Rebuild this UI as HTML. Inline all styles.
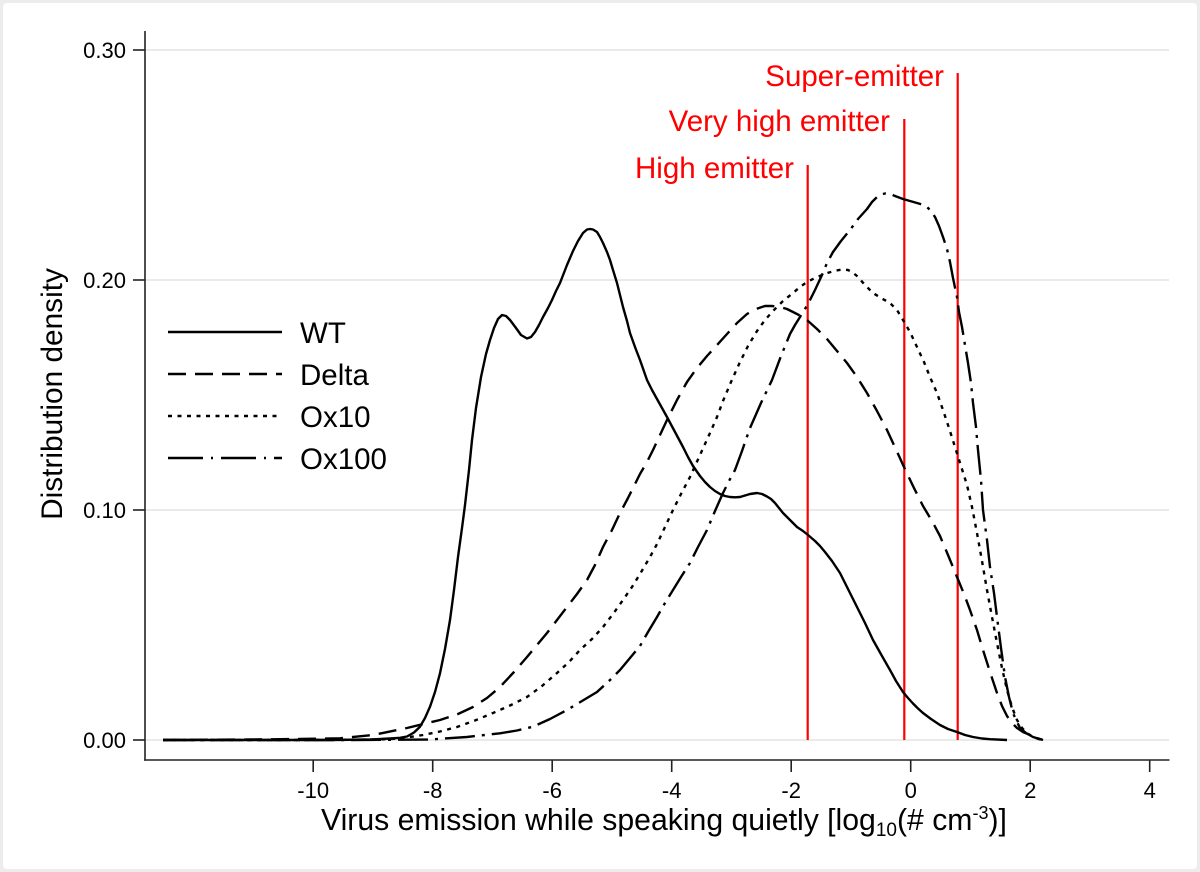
<!DOCTYPE html>
<html>
<head>
<meta charset="utf-8">
<style>
  html, body { margin:0; padding:0; background:#ececec; }
  body { width:1200px; height:872px; overflow:hidden; }
  svg { display:block; }
  text { font-family: "Liberation Sans", Arial, sans-serif; }
</style>
</head>
<body>
<svg width="1200" height="872" viewBox="0 0 1200 872" xmlns="http://www.w3.org/2000/svg">
  <rect x="0" y="0" width="1200" height="872" fill="#ececec"/>
  <rect x="3" y="3" width="1194" height="866" rx="4" fill="#ffffff"/>

  <!-- gridlines -->
  <g stroke="#e4e4e4" stroke-width="1.6">
    <line x1="146" y1="50" x2="1169" y2="50"/>
    <line x1="146" y1="280" x2="1169" y2="280"/>
    <line x1="146" y1="510" x2="1169" y2="510"/>
    <line x1="146" y1="740" x2="1169" y2="740"/>
  </g>

  <!-- axes -->
  <g stroke="#222" stroke-width="1.6" fill="none">
    <line x1="145" y1="31" x2="145" y2="760.8"/>
    <line x1="144.2" y1="760" x2="1169.5" y2="760"/>
    <!-- y ticks -->
    <line x1="133" y1="50" x2="145" y2="50"/>
    <line x1="133" y1="280" x2="145" y2="280"/>
    <line x1="133" y1="510" x2="145" y2="510"/>
    <line x1="133" y1="740" x2="145" y2="740"/>
    <!-- x ticks -->
    <line x1="313.2" y1="760" x2="313.2" y2="772"/>
    <line x1="432.7" y1="760" x2="432.7" y2="772"/>
    <line x1="552.2" y1="760" x2="552.2" y2="772"/>
    <line x1="671.7" y1="760" x2="671.7" y2="772"/>
    <line x1="791.2" y1="760" x2="791.2" y2="772"/>
    <line x1="910.7" y1="760" x2="910.7" y2="772"/>
    <line x1="1030.2" y1="760" x2="1030.2" y2="772"/>
    <line x1="1149.7" y1="760" x2="1149.7" y2="772"/>
  </g>

  <!-- y tick labels -->
  <g font-size="22" fill="#000" text-anchor="end">
    <text x="126" y="58">0.30</text>
    <text x="126" y="288">0.20</text>
    <text x="126" y="518">0.10</text>
    <text x="126" y="748">0.00</text>
  </g>

  <!-- x tick labels -->
  <g font-size="22" fill="#000" text-anchor="middle">
    <text x="313.2" y="798">-10</text>
    <text x="432.7" y="798">-8</text>
    <text x="552.2" y="798">-6</text>
    <text x="671.7" y="798">-4</text>
    <text x="791.2" y="798">-2</text>
    <text x="910.7" y="798">0</text>
    <text x="1030.2" y="798">2</text>
    <text x="1149.7" y="798">4</text>
  </g>

  <!-- axis titles -->
  <text x="321" y="830" font-size="30.2" fill="#000">Virus emission while speaking quietly [log<tspan font-size="19" dy="6">10</tspan><tspan dy="-6">(# cm</tspan><tspan font-size="18" dy="-11">-3</tspan><tspan dy="11">)]</tspan></text>
  <text transform="translate(62,394) rotate(-90)" text-anchor="middle" font-size="29.8" fill="#000">Distribution density</text>

  <!-- red emitter lines -->
  <g stroke="#ff0000" stroke-width="2.2">
    <line x1="807.7" y1="165" x2="807.7" y2="740"/>
    <line x1="904.3" y1="119" x2="904.3" y2="740"/>
    <line x1="957.7" y1="73" x2="957.7" y2="740"/>
  </g>
  <g font-size="29.5" fill="#ff0000" text-anchor="end">
    <text x="944" y="86">Super-emitter</text>
    <text x="890" y="131">Very high emitter</text>
    <text x="794" y="178">High emitter</text>
  </g>

  <!-- curves -->
  <g fill="none" stroke="#000" stroke-width="2.4" stroke-linejoin="round">
    <!-- WT -->
    <polyline points="163,740 250,740 330,740 370,739.5 390,738.5 400,737.8 407,736.5 414,732.5 420,726.7 425,718 430,706.7 435,692 440,673.3 445,649 450,620 454,590 458,557 462,528 465,505 469,470 472,440 476,408 481,377 486,354 490,340 494,328 498,319 502,315 506,316 510,320 516,328 521,335 527,338.5 531,337 535,332 539,325 543,317 548,308 552,300 556,291 560,283 567,265 573,251 578,241 583,233 587,229.5 590,229 593,229.5 597,232 600,237 603,243 607,252 610,260 613,270 617,283 620,295 623,307 627,321 630,333 635,347 640,360 647,380 652,390 657,399 667,417 675,432 683,447 688,457 693,466 700,476 705,482 710,487 715,491 720,494 725,496 730,497 735,497.3 740,497 745,495.5 750,494 757,493 762,494 767,496.5 771,499 775,503 779,508 783,513 790,520 797,527 803,531 808,535 815,541 820,546 825,552 832,561 840,573 848,589 857,607 865,623 873,640 882,656 890,670 896,681 903,692 908,698 913,703.5 918,708.5 923,713 931,719 940,725 948,729 957,732 965,735 973,737 982,738.5 990,739.2 1007,740"/>
    <!-- Delta -->
    <polyline stroke-dasharray="18 9" points="163,740 250,739.5 300,739 340,738.3 373,735 407,728 440,720 458,714 473,707 487,698 500,687 514,672 527,657 537,645 547,633 557,620 567,607 577,594 587,580 595,565 603,547 612,530 620,513 628,498 635,484 640,474 647,462 653,450 660,435 667,420 677,400 687,382 697,368 707,356 717,345 727,334 737,323 747,314 756,309 765,306 772,306 780,307 787,309 793,312 800,315.5 807,320 817,329 827,339 837,351 847,363 857,377 867,393 877,411 887,430 893,443 899,456 904,467 913,486 923,506 932,521 940,536 948,555 957,577 964,594 970,610 977,630 983,650 990,672 997,693 1002,706 1007,716 1012,723 1017,728 1023,732 1030,735 1036,737.8 1043,740"/>
    <!-- Ox10 -->
    <polyline stroke-dasharray="4 5.5" points="163,740 300,740 380,739.5 400,738.5 423,735 440,731.5 457,727 475,720.5 493,713 510,705.5 527,697 542,686 557,673 569,662 580,650 592,639 603,627 613,614 623,600 632,587 640,574 650,557 657,544 665,527 673,510 681,494 690,477 700,455 710,433 717,417 723,401 731,382 740,362 748,346 757,331 765,320 773,311 783,301 793,293 800,287 807,282 815,278 822,275 829,272.5 836,270.5 843,269.5 848,270 852,272 857,276 865,285 873,293 881,298 890,303 897,310 903,320 910,332 917,347 924,362 930,377 937,393 943,410 949,428 955,447 961,466 967,485 972,507 977,533 982,561 987,590 992,617 997,643 1002,668 1007,690 1012,707 1017,720 1022,728 1027,733 1033,737 1040,739.5 1045,740"/>
    <!-- Ox100 -->
    <polyline stroke-dasharray="30 7 3 7" points="163,740 350,740 430,739.5 467,737 500,733.3 517,730.5 533,726.7 550,719 567,710 582,701 597,692 609,681 620,670 630,658 640,646 648,632 657,617 665,603 673,590 681,577 690,563 698,547 707,530 715,511 723,493 729,481 735,470 742,451 750,428 761,403 772,380 781,356 790,334 795,325 800,317 808,304 815,290 822,275 827,263 833,252 841,241 850,230 858,219 867,209 872,202 877,197 881,194.5 885,193.5 890,194 895,196 903,199 910,201 917,203 922,204.5 927,207 931,211 935,217 939,226 943,237 947,249 950,262 953,278 957,297 959,312 962,327 965,345 968,363 971,383 973,403 976,427 978,450 981,480 983,510 987,540 990,567 994,593 997,617 1001,648 1005,677 1009,697 1013,713 1017,722 1020,728 1026,733 1033,737 1043,740"/>
  </g>

  <!-- legend -->
  <g fill="none" stroke="#000" stroke-width="2.4">
    <line x1="168" y1="332" x2="282" y2="332"/>
    <line x1="168" y1="374" x2="282" y2="374" stroke-dasharray="18 9"/>
    <line x1="168" y1="416" x2="282" y2="416" stroke-dasharray="4 5.5"/>
    <line x1="168" y1="458" x2="282" y2="458" stroke-dasharray="35 8 2 8"/>
  </g>
  <g font-size="29.5" fill="#000">
    <text x="300" y="343">WT</text>
    <text x="300" y="385">Delta</text>
    <text x="300" y="427">Ox10</text>
    <text x="300" y="469">Ox100</text>
  </g>
</svg>
</body>
</html>
